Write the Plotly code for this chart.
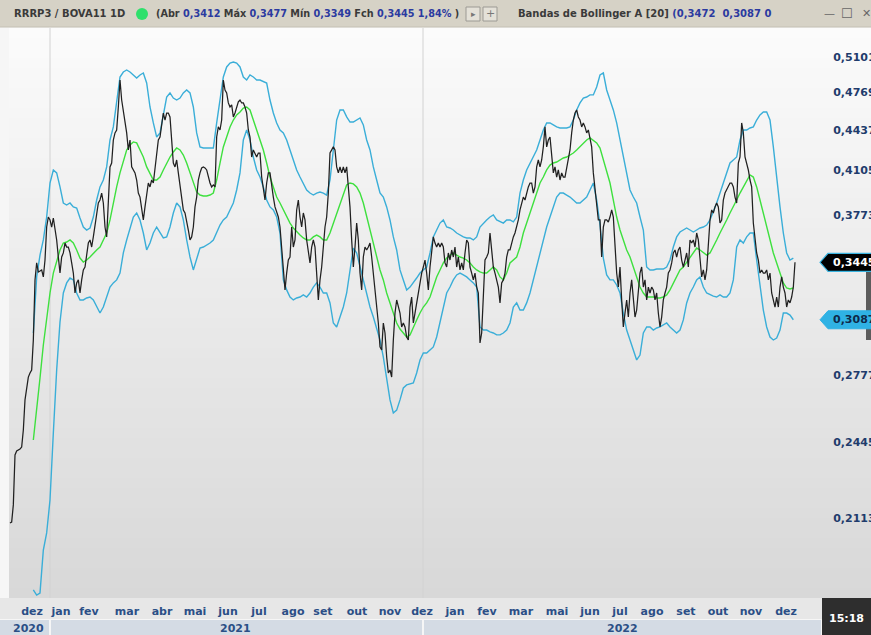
import numpy as np
import plotly.graph_objects as go

# ---------------- DATA ----------------
# RRRP3 / BOVA11 daily ratio, one value per bar (bar index 0..471)
close = [
    .2094, .2098, .2168, .2385, .2403, .2407, .2412, .2421, .2501, .2649,
    .2700, .2767, .2789, .2805, .2970, .3331, .3441, .3382, .3388, .3395,
    .3350, .3460, .3685, .3756, .3735, .3685, .3749, .3685, .3595, .3480,
    .3375, .3480, .3507, .3574, .3547, .3547, .3507, .3441, .3375, .3249,
    .3312, .3331, .3249, .3331, .3395, .3414, .3480, .3574, .3595, .3547,
    .3616, .3685, .3785, .3858, .3880, .3932, .3858, .3685, .3616, .3880,
    .4133, .4164, .4351, .4410, .4435, .4634, .4879, .4696, .4608, .4495,
    .4410, .4269, .4351, .4133, .4109, .4086, .4031, .3932, .3902, .3807,
    .3735, .3829, .3932, .4008, .3978, .4031, .4008, .4133, .4244, .4351,
    .4376, .4495, .4581, .4520, .4581, .4581, .4547, .4351, .4164, .4133,
    .4188, .4086, .3978, .3880, .3807, .3785, .3735, .3664, .3595, .3616,
    .3685, .3829, .3902, .4031, .4086, .4125, .4133, .4125, .4109, .4054,
    .4008, .3978, .3993, .3978, .4376, .4461, .4435, .4520, .4879, .4787,
    .4760, .4670, .4634, .4652, .4547, .4581, .4634, .4679, .4696, .4670,
    .4670, .4634, .4581, .4435, .4376, .4212, .4269, .4244, .4212, .4244,
    .4244, .4054, .3955, .3880, .4008, .4086, .4086, .3978, .3902, .3829,
    .3785, .3756, .3685, .3547, .3375, .3268, .3375, .3460, .3480, .3685,
    .3547, .3595, .3807, .3880, .3756, .3685, .3785, .3735, .3595, .3507,
    .3441, .3547, .3595, .3547, .3375, .3206, .3331, .3414, .3547, .3685,
    .3756, .3932, .4244, .4269, .4294, .4269, .4133, .4086, .4133, .4086,
    .4133, .4086, .4133, .3978, .3829, .3595, .3414, .3547, .3713, .3595,
    .3375, .3268, .3480, .3547, .3527, .3547, .3574, .3480, .3375, .3268,
    .3145, .3068, .2931, .2914, .3068, .3010, .2875, .2789, .2805, .2767,
    .2970, .3127, .3206, .3163, .3127, .3045, .3068, .3045, .2987, .2970,
    .3163, .3224, .3068, .3127, .3188, .3249, .3331, .3375, .3414, .3460,
    .3375, .3268, .3414, .3507, .3616, .3574, .3547, .3574, .3547, .3574,
    .3547, .3441, .3414, .3507, .3460, .3527, .3480, .3547, .3414, .3480,
    .3395, .3441, .3395, .3507, .3595, .3574, .3414, .3375, .3331, .3375,
    .3286, .3249, .2953, .3010, .3249, .3460, .3480, .3507, .3643, .3547,
    .3414, .3375, .3331, .3286, .3188, .3312, .3331, .3375, .3480, .3527,
    .3527, .3574, .3616, .3643, .3685, .3735, .3807, .3858, .3902, .3880,
    .3932, .3978, .4008, .4008, .3932, .3978, .4133, .4188, .4133, .4188,
    .4294, .4461, .4294, .4351, .4376, .4188, .4086, .4133, .4054, .4109,
    .4031, .4086, .4054, .4054, .4133, .4188, .4269, .4410, .4520, .4581,
    .4608, .4547, .4520, .4461, .4495, .4461, .4410, .4435, .4351, .4294,
    .4086, .3955, .3829, .3735, .3735, .3480, .3685, .3735, .3735, .3720,
    .3756, .3807, .3756, .3547, .3375, .3286, .3414, .3206, .3045, .3127,
    .3206, .3103, .3249, .3331, .3206, .3103, .3145, .3249, .3375, .3414,
    .3286, .3331, .3206, .3286, .3249, .3286, .3268, .3206, .3249, .3127,
    .3045, .3103, .3206, .3249, .3286, .3375, .3395, .3441, .3507, .3527,
    .3480, .3527, .3547, .3460, .3414, .3460, .3507, .3414, .3595, .3574,
    .3595, .3547, .3643, .3595, .3480, .3350, .3395, .3331, .3395, .3547,
    .3735, .3807, .3785, .3829, .3858, .3829, .3713, .3735, .3880, .3932,
    .3955, .3978, .4008, .4008, .3978, .3902, .3858, .4164, .4212, .4495,
    .4410, .4212, .4164, .4109, .4031, .3978, .3713, .3595, .3507, .3460,
    .3375, .3395, .3375, .3375, .3395, .3331, .3375, .3249, .3206, .3163,
    .3224, .3163, .3286, .3350, .3286, .3249, .3163, .3206, .3188, .3224,
    .3286, .3445,
]

# Bollinger bands [20], sampled every 2 bars starting at bar 14
BAND_START, BAND_STEP = 14, 2
upper = [
    .3010, .3350, .3493, .3595, .3756, .4008, .4109, .4086, .3978, .3858,
    .3843, .3858, .3829, .3821, .3749, .3685, .3664, .3678, .3756, .3880,
    .3978, .4031, .4133, .4351, .4461, .4696, .4907, .4954, .4973, .4954,
    .4926, .4898, .4926, .4945, .4851, .4634, .4495, .4376, .4410, .4581,
    .4723, .4760, .4714, .4696, .4714, .4760, .4787, .4760, .4634, .4410,
    .4294, .4285, .4285, .4285, .4285, .4495, .4696, .4907, .5002, .5040,
    .5050, .5040, .5002, .4907, .4879, .4926, .4907, .4879, .4879, .4861,
    .4851, .4696, .4581, .4495, .4435, .4410, .4351, .4269, .4188, .4109,
    .4054, .4008, .3955, .3932, .3917, .3932, .3940, .3932, .3917, .4031,
    .4294, .4520, .4608, .4608, .4547, .4503, .4503, .4520, .4538, .4478,
    .4351, .4269, .4133, .4031, .3932, .3902, .3829, .3735, .3616, .3527,
    .3395, .3331, .3268, .3286, .3312, .3343, .3375, .3395, .3414, .3507,
    .3616, .3664, .3713, .3735, .3685, .3678, .3664, .3643, .3629, .3616,
    .3609, .3609, .3595, .3616, .3685, .3713, .3735, .3756, .3771, .3735,
    .3721, .3713, .3735, .3735, .3721, .3756, .3932, .4031, .4109, .4164,
    .4212, .4269, .4351, .4435, .4495, .4495, .4478, .4461, .4452, .4452,
    .4452, .4461, .4520, .4608, .4670, .4714, .4723, .4742, .4742, .4815,
    .4926, .4945, .4787, .4696, .4608, .4495, .4351, .4212, .4086, .3955,
    .3902, .3858, .3756, .3664, .3414, .3395, .3395, .3401, .3401, .3401,
    .3414, .3460, .3547, .3616, .3650, .3664, .3678, .3664, .3650, .3664,
    .3678, .3685, .3699, .3735, .3792, .3858, .3932, .4008, .4086, .4164,
    .4188, .4212, .4351, .4435, .4435, .4452, .4461, .4520, .4564, .4590,
    .4590, .4520, .4294, .4031, .3829, .3643, .3507, .3460, .3472,
]
middle = [
    .2454, .2589, .2762, .2942, .3109, .3249, .3375, .3460, .3527, .3574,
    .3581, .3595, .3574, .3527, .3473, .3447, .3460, .3480, .3507, .3527,
    .3547, .3595, .3643, .3735, .3858, .3978, .4086, .4188, .4269, .4310,
    .4335, .4327, .4269, .4212, .4133, .4086, .4031, .4031, .4054, .4109,
    .4164, .4212, .4253, .4285, .4269, .4228, .4164, .4086, .4008, .3940,
    .3917, .3910, .3910, .3917, .3932, .4031, .4164, .4294, .4376, .4461,
    .4520, .4564, .4590, .4625, .4634, .4608, .4520, .4435, .4351, .4269,
    .4164, .4054, .3978, .3902, .3858, .3807, .3756, .3713, .3678, .3650,
    .3629, .3609, .3595, .3595, .3616, .3629, .3616, .3595, .3595, .3643,
    .3713, .3785, .3858, .3932, .3993, .4008, .4001, .3978, .3932, .3858,
    .3756, .3664, .3574, .3480, .3395, .3331, .3249, .3188, .3127, .3068,
    .3033, .3010, .2987, .2999, .3045, .3086, .3127, .3163, .3188, .3224,
    .3286, .3350, .3395, .3441, .3473, .3493, .3507, .3493, .3480, .3473,
    .3460, .3441, .3414, .3395, .3382, .3375, .3375, .3395, .3414, .3395,
    .3350, .3331, .3375, .3441, .3460, .3480, .3547, .3643, .3713, .3785,
    .3858, .3932, .4008, .4054, .4109, .4148, .4164, .4172, .4188, .4204,
    .4212, .4228, .4244, .4269, .4294, .4327, .4351, .4368, .4351, .4327,
    .4285, .4188, .4101, .4008, .3880, .3756, .3664, .3595, .3527, .3480,
    .3414, .3350, .3286, .3249, .3224, .3224, .3224, .3218, .3218, .3224,
    .3237, .3268, .3312, .3350, .3395, .3414, .3447, .3480, .3507, .3540,
    .3527, .3507, .3493, .3507, .3547, .3595, .3643, .3685, .3735, .3785,
    .3829, .3880, .3932, .3978, .4031, .4070, .4054, .3978, .3880, .3785,
    .3685, .3595, .3507, .3441, .3375, .3312, .3280, .3274, .3280,
]
lower = [
    .1843, .1825, .1832, .1989, .2055, .2188, .2487, .2805, .3074, .3249,
    .3312, .3343, .3331, .3249, .3206, .3206, .3218, .3224, .3206, .3163,
    .3127, .3163, .3224, .3286, .3312, .3331, .3375, .3507, .3595, .3685,
    .3756, .3785, .3735, .3643, .3527, .3574, .3643, .3685, .3643, .3609,
    .3616, .3685, .3785, .3858, .3829, .3735, .3595, .3480, .3395, .3460,
    .3540, .3547, .3561, .3574, .3595, .3643, .3699, .3735, .3756, .3807,
    .3858, .3955, .4086, .4351, .4435, .4351, .4212, .4109, .4054, .3978,
    .3880, .3829, .3807, .3756, .3643, .3331, .3268, .3224, .3206, .3218,
    .3224, .3237, .3224, .3249, .3286, .3312, .3286, .3249, .3249, .3188,
    .3068, .3045, .3103, .3163, .3249, .3395, .3540, .3507, .3414, .3331,
    .3249, .3163, .3103, .3027, .2970, .2875, .2752, .2649, .2584, .2598,
    .2649, .2710, .2726, .2731, .2736, .2789, .2859, .2897, .2897, .2914,
    .2931, .2987, .3068, .3163, .3249, .3286, .3331, .3363, .3375, .3363,
    .3350, .3331, .3312, .3286, .3045, .3027, .3027, .3016, .3010, .2999,
    .2999, .3010, .3027, .3068, .3163, .3188, .3145, .3145, .3188, .3249,
    .3331, .3414, .3507, .3595, .3685, .3756, .3829, .3902, .3932, .3932,
    .3917, .3902, .3880, .3858, .3858, .3880, .3902, .3955, .4008, .3880,
    .3699, .3473, .3363, .3331, .3331, .3299, .3249, .3127, .3027, .2970,
    .2914, .2859, .2886, .3010, .3045, .3045, .3027, .3039, .3045, .3057,
    .3068, .3045, .3027, .3010, .3027, .3086, .3188, .3249, .3286, .3331,
    .3350, .3286, .3249, .3237, .3230, .3224, .3237, .3224, .3224, .3249,
    .3331, .3547, .3595, .3574, .3616, .3643, .3643, .3460, .3286, .3145,
    .3045, .2987, .2970, .2981, .3027, .3127, .3127, .3115, .3087,
]

# price-axis ticks
y_ticks = [0.5101, 0.4769, 0.4437, 0.4105, 0.3773, 0.2777, 0.2445, 0.2113]

# month labels (bar index where each label sits)
month_pos = [13.2, 30.6, 47.4, 70.2, 91.2, 111, 130.8, 149.4, 169.8, 187.8,
             208.2, 228, 247.2, 267, 286.2, 306.6, 328.2, 348, 366, 385.2,
             405.6, 424.8, 444.6, 465.6]
month_lab = ["dez", "jan", "fev", "mar", "abr", "mai", "jun", "jul", "ago",
             "set", "out", "nov", "dez", "jan", "fev", "mar", "mai", "jun",
             "jul", "ago", "set", "out", "nov", "dez"]
year_lab = ["2020", "2021", "2022"]
year_pos = [10.8, 135.0, 367.2]
year_sep = [24.0, 247.8]

header_quote = {"Abr": "0,3412", "Máx": "0,3477", "Mín": "0,3349",
                "Fch": "0,3445", "var": "1,84%"}
header_bb = ("0,3472", "0,3087")
clock = "15:18"

# ---------------- LAYOUT HELPERS ----------------
WIDTH, HEIGHT = 871, 635
ML, MR, MT, MB = 9, 49, 28, 37
PW, PH = WIDTH - ML - MR, HEIGHT - MT - MB
XMIN, XMAX = -0.6, 487.2
YMIN, YMAX = -0.74115, -0.26855  # log10 range


def px(x):  # pixel x -> paper
    return (x - ML) / PW


def py(y):  # pixel y (from top) -> paper
    return (HEIGHT - MB - y) / PH


def val_to_paper_y(v):
    return (np.log10(v) - YMIN) / (YMAX - YMIN)


def bar_to_px(i):
    return ML + (i - XMIN) / (XMAX - XMIN) * PW


x_close = np.arange(len(close))
x_band = BAND_START + BAND_STEP * np.arange(len(upper))
x_mid = BAND_START + BAND_STEP * np.arange(len(middle))
x_low = BAND_START + BAND_STEP * np.arange(len(lower))

BLUE = "#3aaed8"
GREEN = "#3ee03e"
AXIS_TXT = "#1f3c6c"
MONTH_TXT = "#2b4f86"
FONT = "DejaVu Sans"

fig = go.Figure()
fig.add_trace(go.Scatter(x=x_band, y=upper, mode="lines",
                         line=dict(color=BLUE, width=1.4), hoverinfo="skip"))
fig.add_trace(go.Scatter(x=x_low, y=lower, mode="lines",
                         line=dict(color=BLUE, width=1.4), hoverinfo="skip"))
fig.add_trace(go.Scatter(x=x_mid, y=middle, mode="lines",
                         line=dict(color=GREEN, width=1.4), hoverinfo="skip"))
fig.add_trace(go.Scatter(x=x_close, y=close, mode="lines",
                         line=dict(color="#202020", width=1.25), hoverinfo="skip"))

shapes = []
# gradient background of the chart area
N = 57
for k in range(N):
    t = k / (N - 1)
    c = int(round(251 - t * 35))
    shapes.append(dict(type="rect", xref="paper", yref="paper", layer="below",
                       x0=px(ML), x1=px(WIDTH + 2), y0=py(MT + k * 10 + 10.5),
                       y1=py(MT + k * 10), line=dict(width=0),
                       fillcolor=f"rgb({c},{c},{c})"))
# year separators
for s in year_sep:
    shapes.append(dict(type="line", xref="x", yref="paper", x0=s, x1=s, y0=0, y1=1,
                       line=dict(color="#d2d2d2", width=1), layer="below"))
# header bar
shapes.append(dict(type="rect", xref="paper", yref="paper", x0=px(-2), x1=px(WIDTH + 2),
                   y0=py(27), y1=py(-2), line=dict(width=0), fillcolor="#d6d2c6",
                   layer="below"))
shapes.append(dict(type="line", xref="paper", yref="paper", x0=px(0), x1=px(WIDTH),
                   y0=py(27), y1=py(27), line=dict(color="#c4c0b4", width=1), layer="below"))
# green status dot
shapes.append(dict(type="circle", xref="paper", yref="paper", x0=px(136), x1=px(148),
                   y0=py(20), y1=py(8), line=dict(width=0), fillcolor="#2fe06c"))
# small header buttons
for bx in (466, 483):
    shapes.append(dict(type="rect", xref="paper", yref="paper", x0=px(bx), x1=px(bx + 14),
                       y0=py(21), y1=py(7), line=dict(color="#9c9a94", width=1),
                       fillcolor="#e4e1d8", layer="below"))
# bottom month row & year row
shapes.append(dict(type="rect", xref="paper", yref="paper", x0=px(-2), x1=px(822),
                   y0=py(619), y1=py(598), line=dict(width=0), fillcolor="#e7e7e7",
                   layer="below"))
edges = [-2] + [bar_to_px(s) for s in year_sep] + [822]
for a, b in zip(edges[:-1], edges[1:]):
    shapes.append(dict(type="rect", xref="paper", yref="paper", x0=px(a + 1), x1=px(b - 1),
                       y0=py(637), y1=py(620), line=dict(width=0), fillcolor="#d4dbe4",
                       layer="below"))
# clock box
shapes.append(dict(type="rect", xref="paper", yref="paper", x0=px(822), x1=px(WIDTH + 2),
                   y0=py(637), y1=py(598), line=dict(width=0), fillcolor="#2e2e2e",
                   layer="below"))
# scroll-like bar at the right edge
yc_close = val_to_paper_y(close[-1])
yc_low = val_to_paper_y(lower[-1])
shapes.append(dict(type="rect", xref="paper", yref="paper", x0=px(866), x1=px(871),
                   y0=py(340), y1=yc_close, line=dict(width=0), fillcolor="#5c5c5c"))


def marker_path(yc):
    h = 9 / PH
    return (f"M {px(820)},{yc} L {px(828)},{yc + h} L {px(880)},{yc + h} "
            f"L {px(880)},{yc - h} L {px(828)},{yc - h} Z")


shapes.append(dict(type="path", xref="paper", yref="paper", path=marker_path(yc_low),
                   fillcolor="#2fb2e4", line=dict(color="#2fb2e4", width=1)))
shapes.append(dict(type="path", xref="paper", yref="paper", path=marker_path(yc_close),
                   fillcolor="#000000", line=dict(color="#3ab4e0", width=1.2)))

ann = []


def text(x, y, s, color="#3a3a3a", size=10, bold=True, anchor="left", fam=FONT, yref_val=None):
    ann.append(dict(xref="paper", yref="paper", x=px(x),
                    y=py(y) if yref_val is None else yref_val,
                    text=f"<b>{s}</b>" if bold else s, showarrow=False,
                    xanchor=anchor, yanchor="middle",
                    font=dict(family=fam, size=size, color=color)))


HB = "#2b3aa0"
text(12, 14, "RRRP3 / BOVA11 1D")
q = header_quote
hdr = (f"(Abr <span style='color:{HB}'>{q['Abr']}</span> Máx "
       f"<span style='color:{HB}'>{q['Máx']}</span> Mín "
       f"<span style='color:{HB}'>{q['Mín']}</span> Fch "
       f"<span style='color:{HB}'>{q['Fch']} {q['var']}</span> )")
text(154, 14, hdr, size=9.7)
text(473, 14, "▸", color="#777", size=9, bold=False, anchor="center")
text(490, 14, "+", color="#777", size=11, bold=False, anchor="center")
text(516, 14, "Bandas de Bollinger A [20] "
     f"<span style='color:{HB}'>({header_bb[0]}  {header_bb[1]} 0</span>")
text(829, 14, "—", color="#666", size=11, bold=False, anchor="center")
text(847, 14, "☐", color="#666", size=13, bold=False, anchor="center")
text(867, 14, "✕", color="#666", size=11, bold=False, anchor="center")

# price markers
text(831, 0, f"{close[-1]:.4f}".replace(".", ","), color="#ffffff", size=11,
     yref_val=yc_close)
text(831, 0, f"{lower[-1]:.4f}".replace(".", ","), color="#0e2a4a", size=11,
     yref_val=yc_low)
# clock
text(846, 618, clock, color="#ffffff", size=11, anchor="center")
# year labels
for lab, pos in zip(year_lab, year_pos):
    ann.append(dict(xref="x", yref="paper", x=pos, y=py(628), text=f"<b>{lab}</b>",
                    showarrow=False, xanchor="center", yanchor="middle",
                    font=dict(family=FONT, size=11, color=MONTH_TXT)))

fig.update_layout(
    width=WIDTH, height=HEIGHT, autosize=False,
    margin=dict(l=ML, r=MR, t=MT, b=MB, pad=0),
    paper_bgcolor="#f6f6f6", plot_bgcolor="rgba(0,0,0,0)",
    showlegend=False, hovermode=False,
    shapes=shapes, annotations=ann,
    xaxis=dict(range=[XMIN, XMAX], showgrid=False, zeroline=False, showline=False,
               tickmode="array", tickvals=month_pos,
               ticktext=[f"<b>{m}</b>" for m in month_lab],
               ticks="outside", ticklen=3, tickcolor="rgba(0,0,0,0)",
               tickfont=dict(family=FONT, size=11, color=MONTH_TXT), fixedrange=True,
               automargin=False),
    yaxis=dict(type="log", range=[YMIN, YMAX], side="right", showgrid=False,
               zeroline=False, showline=False, tickmode="array", tickvals=y_ticks,
               ticktext=[f"<b>{v:.4f}</b>".replace(".", ",") for v in y_ticks],
               ticks="outside", ticklen=8, tickcolor="rgba(0,0,0,0)",
               tickfont=dict(family=FONT, size=11, color=AXIS_TXT), fixedrange=True,
               automargin=False),
)

post = ("document.body.style.margin='0';document.body.style.padding='0';"
        "document.body.style.overflow='hidden';"
        "var gd=document.getElementById('{plot_id}');"
        "Plotly.relayout(gd,{width:871,height:635});")

fig.write_html("out.html", config={"displayModeBar": False, "staticPlot": True,
                                   "responsive": False},
               post_script=post)
